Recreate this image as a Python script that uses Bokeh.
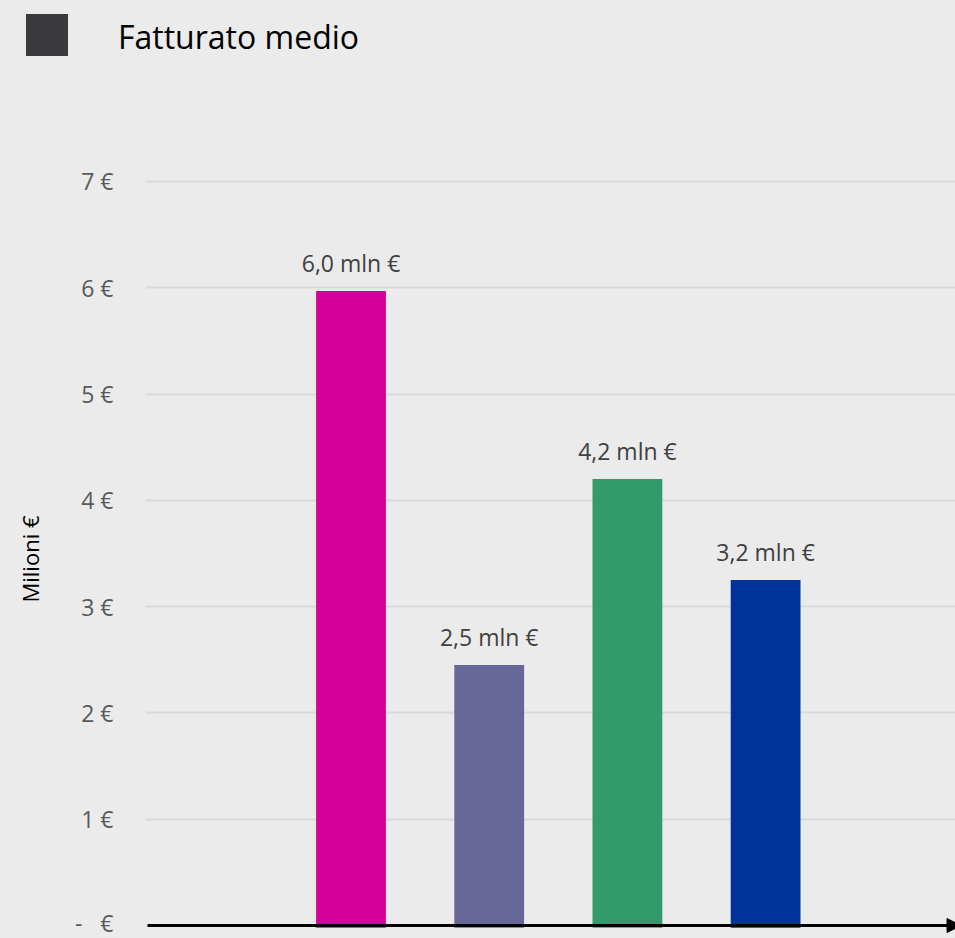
from bokeh.plotting import figure
from bokeh.layouts import column
from bokeh.models import Range1d, FixedTicker, Arrow, NormalHead, ColumnDataSource, Div
from bokeh.core.properties import value
from bokeh.embed import file_html
from bokeh.resources import INLINE

# ---- data ----
posizioni = [1, 2, 3, 4]
valori = [5.97, 2.45, 4.20, 3.25]
etichette = ["6,0 mln €", "2,5 mln €", "4,2 mln €", "3,2 mln €"]
colori = ["#d5009a", "#676698", "#339b69", "#003399"]
serie = "Fatturato medio"
colore_serie = "#3a393e"
y_ticks = [0, 1, 2, 3, 4, 5, 6, 7]
y_tick_labels = ["-\u00a0\u00a0\u00a0€", "1 €", "2 €", "3 €", "4 €", "5 €", "6 €", "7 €"]
y_label = "Milioni €"

FONT = "Open Sans"
BG = "#ebebeb"
W = 955
H_LEG = 80
H_MAIN = 858

# ---- legend strip (series swatch + name) ----
leg_html = (
    f'<div style="position:relative;width:{W}px;height:{H_LEG}px;background:{BG};">'
    f'<div style="position:absolute;left:26px;top:14px;width:42px;height:42px;'
    f'background:{colore_serie};"></div>'
    f'<div style="position:absolute;left:118px;top:15px;font-family:\'{FONT}\';'
    f'font-size:32px;line-height:normal;color:#000;white-space:nowrap;">{serie}</div>'
    f'</div>'
)
leg = Div(text=leg_html, width=W, height=H_LEG, margin=0,
          styles={"background-color": BG, "padding": "0"})

# ---- main chart ----
p = figure(width=W, height=H_MAIN, output_backend="svg", toolbar_location=None,
           x_range=Range1d(-0.487, 5.374), y_range=Range1d(-0.122, 7.018),
           min_border_left=145, min_border_right=0, min_border_top=99, min_border_bottom=0,
           margin=0)
p.background_fill_color = BG
p.border_fill_color = BG
p.outline_line_color = None

src = ColumnDataSource(dict(x=posizioni, top=valori, lab=etichette, col=colori))
p.vbar(x="x", top="top", bottom=-0.02, width=0.505, fill_color="col", line_color=None, source=src)
p.text(x="x", y="top", text="lab", source=src, text_align="center", text_baseline="alphabetic",
       y_offset=-28, text_font=value(FONT), text_font_size="23px", text_color="#404040")

# x axis: black line with arrow
p.add_layout(Arrow(x_start=p.x_range.start + 0.015, y_start=0, x_end=p.x_range.end + 0.04, y_end=0,
                   line_color="black", line_width=3,
                   end=NormalHead(size=14, fill_color="black", line_color="black")))
p.xaxis.visible = False
p.xgrid.visible = False

# y axis
p.yaxis.ticker = FixedTicker(ticks=y_ticks)
p.yaxis.major_label_overrides = {t: l for t, l in zip(y_ticks, y_tick_labels)}
p.yaxis.axis_line_color = None
p.yaxis.major_tick_line_color = None
p.yaxis.minor_tick_line_color = None
p.yaxis.major_tick_out = 0
p.yaxis.major_label_standoff = 32
p.yaxis.major_label_text_font = FONT
p.yaxis.major_label_text_font_size = "23px"
p.yaxis.major_label_text_color = "#595959"
p.yaxis.axis_label = y_label
p.yaxis.axis_label_text_font = FONT
p.yaxis.axis_label_text_font_size = "22px"
p.yaxis.axis_label_text_font_style = "normal"
p.yaxis.axis_label_text_color = "#000000"
p.yaxis.axis_label_standoff = 27
p.ygrid.grid_line_color = "#d9d9d9"
p.ygrid.grid_line_width = 2

layout = column(leg, p, spacing=0, styles={"background-color": BG})
open("out.html", "w").write(file_html(layout, INLINE))
